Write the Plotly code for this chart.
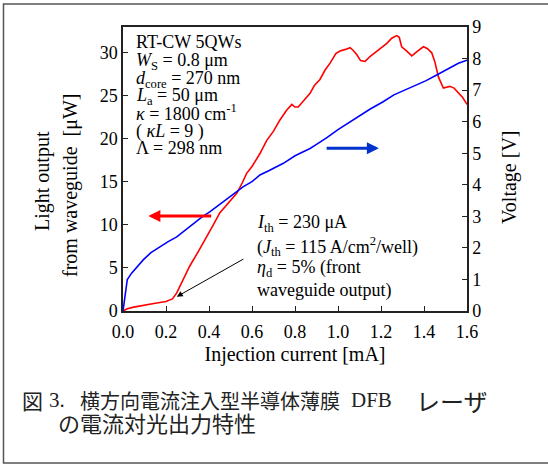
import plotly.graph_objects as go

current_light = [0, 0.02, 0.05, 0.1, 0.15, 0.2, 0.23, 0.25, 0.28, 0.31, 0.35, 0.39, 0.42, 0.45, 0.49,
                 0.53, 0.555, 0.575, 0.6, 0.637, 0.668, 0.70, 0.73, 0.76, 0.785, 0.80, 0.815, 0.84,
                 0.87, 0.89, 0.916, 0.94, 0.963, 0.99, 1.009, 1.035, 1.056, 1.07, 1.087, 1.105, 1.126,
                 1.15, 1.172, 1.2, 1.227, 1.25, 1.273, 1.285, 1.296, 1.32, 1.343, 1.37, 1.397, 1.415,
                 1.436, 1.45, 1.467, 1.49, 1.52, 1.54, 1.56, 1.58, 1.6]
light_output = [0, 0.25, 0.45, 0.7, 0.9, 1.1, 1.4, 2.1, 3.6, 5.2, 6.9, 8.6, 10.0, 11.4, 12.5,
                13.7, 14.9, 16.0, 16.8, 18.3, 19.8, 20.9, 22.2, 23.3, 24.0, 23.7, 23.7, 24.4,
                25.3, 26.2, 26.9, 28.0, 28.8, 29.9, 30.2, 30.4, 30.6, 30.3, 29.8, 29.1, 29.0,
                29.6, 30.0, 30.6, 31.1, 31.7, 32.0, 31.8, 30.7, 30.2, 29.65, 30.2, 30.7, 30.5,
                30.0, 29.0, 27.2, 25.9, 26.1, 25.9, 25.3, 24.8, 24.0]

current_voltage = [0, 0.01, 0.02, 0.04, 0.06, 0.094, 0.13, 0.172, 0.21, 0.25, 0.29, 0.327, 0.365,
                   0.405, 0.44, 0.482, 0.52, 0.56, 0.6, 0.637, 0.68, 0.715, 0.746, 0.8, 0.87, 0.9,
                   0.95, 1.0, 1.056, 1.1, 1.15, 1.21, 1.26, 1.31, 1.366, 1.41, 1.459, 1.52, 1.56, 1.6]
voltage = [0, 0.45, 1.0, 1.2, 1.35, 1.62, 1.85, 2.04, 2.2, 2.35, 2.57, 2.78, 2.97,
           3.15, 3.33, 3.52, 3.74, 3.94, 4.1, 4.31, 4.45, 4.57, 4.68, 4.92, 5.15, 5.28,
           5.5, 5.75, 6.0, 6.2, 6.4, 6.63, 6.85, 7.0, 7.16, 7.3, 7.48, 7.69, 7.85, 7.95]

x_ticks = [0.0, 0.2, 0.4, 0.6, 0.8, 1.0, 1.2, 1.4, 1.6]

SERIF = "'Liberation Serif', 'Times New Roman', 'DejaVu Serif', serif"
CJK = "'Noto Sans CJK JP', sans-serif"
AX = "#222222"

fig = go.Figure()
fig.add_trace(go.Scatter(x=current_light, y=light_output, mode="lines",
                         line=dict(color="#ff0000", width=1.6), yaxis="y", showlegend=False))
fig.add_trace(go.Scatter(x=current_voltage, y=voltage, mode="lines",
                         line=dict(color="#0000ff", width=1.6), yaxis="y2", showlegend=False))

axis_common = dict(showline=True, linecolor=AX, linewidth=1.5, ticks="inside", ticklen=5,
                   tickcolor=AX, tickwidth=1, showgrid=False, zeroline=False,
                   tickfont=dict(family=SERIF, size=18, color="black"))

fig.update_layout(
    width=548, height=466,
    margin=dict(l=123, r=81, t=27, b=155),
    paper_bgcolor="white", plot_bgcolor="white",
    font=dict(family=SERIF, size=18, color="black"),
    xaxis=dict(range=[0, 1.6], tickvals=x_ticks, ticktext=[f"{v:.1f}" for v in x_ticks],
               mirror=True, ticklabelstandoff=4,
               title=dict(text="Injection current [mA]", font=dict(family=SERIF, size=20, color="black"),
                          standoff=6),
               **axis_common),
    yaxis=dict(range=[0, 33], dtick=5, **axis_common),
    yaxis2=dict(range=[0, 9], dtick=1, overlaying="y", side="right", **axis_common),
)

def px(xp):
    return (xp - 123) / 344

def py(yp):
    return (311 - yp) / 284

annotations = []
for t, xx, yy in [("Light output", 43, 181), ("from waveguide  [μW]", 70, 186), ("Voltage [V]", 509, 177)]:
    annotations.append(dict(text=t, x=px(xx), y=py(yy), xref="paper", yref="paper",
                            xanchor="center", yanchor="middle",
                            textangle=-90, showarrow=False, font=dict(family=SERIF, size=20, color="black")))

box_lines = [
    ("RT-CW 5QWs", 41.7),
    ("<i>W</i><sub>S</sub> = 0.8 μm", 61.7),
    ("<i>d</i><sub>core</sub> = 270 nm", 79),
    ("<i>L</i><sub>a</sub> = 50 μm", 96.7),
    ("<i>κ</i> = 1800 cm<sup>-1</sup>", 112),
    ("( <i>κL</i> = 9 )", 131.7),
    ("Λ = 298 nm", 148.3),
]
for t, yy in box_lines:
    annotations.append(dict(text=t, x=px(135), y=py(yy), xref="paper", yref="paper",
                            xanchor="left", yanchor="middle", showarrow=False, borderpad=0,
                            font=dict(family=SERIF, size=18, color="black")))

th_lines = [
    ("<i>I</i><sub>th</sub> = 230 μA", 223),
    ("(<i>J</i><sub>th</sub> = 115 A/cm<sup>2</sup>/well)", 246.7),
    ("<i>η</i><sub>d</sub> = 5% (front", 268.5),
    ("waveguide output)", 290),
]
for t, yy in th_lines:
    annotations.append(dict(text=t, x=px(256), y=py(yy), xref="paper", yref="paper",
                            xanchor="left", yanchor="middle", showarrow=False, borderpad=0,
                            font=dict(family=SERIF, size=18, color="black")))

annotations.append(dict(x=0.118, y=11.05, ax=0.417, ay=11.05, xref="x", yref="y", axref="x", ayref="y",
                        showarrow=True, arrowhead=2, arrowsize=0.8, arrowwidth=3, arrowcolor="#ff0000", text=""))
annotations.append(dict(x=1.19, y=5.16, ax=0.94, ay=5.16, xref="x", yref="y2", axref="x", ayref="y2",
                        showarrow=True, arrowhead=2, arrowsize=0.8, arrowwidth=3, arrowcolor="#0033cc", text=""))
annotations.append(dict(x=0.25, y=1.66, ax=0.567, ay=6.13, xref="x", yref="y", axref="x", ayref="y",
                        showarrow=True, arrowhead=2, arrowsize=1.2, arrowwidth=1, arrowcolor="black", text=""))

# caption pieces (text, left x px, center y px, font, size)
caption_pieces = [
    ("図", 21, 400, CJK, 21),
    ("3.", 48, 400, SERIF, 21),
    ("横方向電流注入型半導体薄膜", 79, 400, CJK, 20),
    ("DFB", 350, 400, SERIF, 21),
    ("レーザ", 415, 400, CJK, 24),
    ("の電流対光出力特性", 57, 422, CJK, 22),
]
for t, xx, yy, fam, sz in caption_pieces:
    annotations.append(dict(text=t, x=px(xx), y=py(yy), xref="paper", yref="paper",
                            xanchor="left", yanchor="middle", showarrow=False, borderpad=0,
                            font=dict(family=fam, size=sz, color="#222222")))

fig.update_layout(annotations=annotations)

fig.add_shape(type="rect", xref="paper", yref="paper", x0=px(3.5), x1=px(550), y0=py(463), y1=py(4),
              line=dict(color="#555555", width=1.5), fillcolor="rgba(0,0,0,0)", layer="below")

fig.write_html("out.html", config={"displayModeBar": False},
               post_script="document.body.style.margin='0';document.body.style.overflow='hidden';")
